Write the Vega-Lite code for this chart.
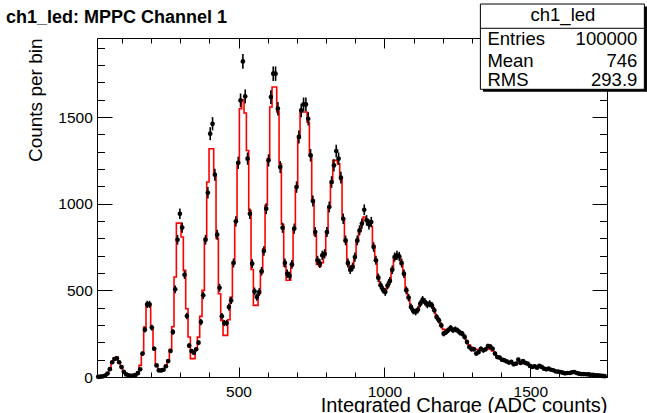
{
"$schema":"https://vega.github.io/schema/vega-lite/v6.json",
"width":510,"height":339,
"autosize":{"type":"none"},
"padding":{"left":97,"top":38,"right":40,"bottom":36},
"background":"white",
"title":{"text":"ch1_led: MPPC Channel 1","anchor":"start","frame":"group","dx":-91,"offset":-37,"baseline":"alphabetic","fontSize":18,"fontWeight":"bold","font":"Liberation Sans","color":"black"},
"config":{"font":"Liberation Sans","view":{"stroke":"black","strokeWidth":1},"axis":{"zindex":1}},
"datasets":{
"hist":[
{"x":19,"n":1,"e":1,"f":1},{"x":27,"n":2,"e":1.4,"f":2},{"x":35,"n":4,"e":2,"f":4},{"x":43,"n":8,"e":2.8,"f":8},{"x":51,"n":20,"e":4.5,"f":20},{"x":59,"n":45,"e":6.7,"f":45},{"x":67,"n":85,"e":9.2,"f":88},{"x":75,"n":104,"e":10.2,"f":110},{"x":83,"n":108,"e":10.4,"f":115},{"x":91,"n":85,"e":9.2,"f":85},
{"x":99,"n":57,"e":7.5,"f":57},{"x":107,"n":30,"e":5.5,"f":30},{"x":115,"n":15,"e":3.9,"f":15},{"x":123,"n":9,"e":3,"f":9},{"x":131,"n":7,"e":2.6,"f":7},{"x":139,"n":8,"e":2.8,"f":8},{"x":147,"n":11,"e":3.3,"f":12},{"x":155,"n":22,"e":4.7,"f":25},{"x":163,"n":44,"e":6.6,"f":67},{"x":171,"n":135,"e":11.6,"f":135},
{"x":179,"n":273,"e":16.5,"f":288},{"x":187,"n":419,"e":20.5,"f":423},{"x":195,"n":419,"e":20.5,"f":423},{"x":203,"n":285,"e":16.9,"f":290},{"x":211,"n":163,"e":12.8,"f":165},{"x":219,"n":67,"e":8.2,"f":70},{"x":227,"n":38,"e":6.2,"f":38},{"x":235,"n":38,"e":6.2,"f":38},{"x":243,"n":42,"e":6.5,"f":42},{"x":251,"n":62,"e":7.9,"f":62},
{"x":259,"n":92,"e":9.6,"f":95},{"x":267,"n":150,"e":12.2,"f":160},{"x":275,"n":260,"e":16.1,"f":290},{"x":283,"n":506,"e":22.5,"f":577},{"x":291,"n":792,"e":28.1,"f":888},{"x":299,"n":942,"e":30.7,"f":888},{"x":307,"n":862,"e":29.4,"f":808},{"x":315,"n":590,"e":24.3,"f":615},{"x":323,"n":352,"e":18.8,"f":394},{"x":331,"n":181,"e":13.5,"f":231},
{"x":339,"n":150,"e":12.2,"f":106},{"x":347,"n":140,"e":11.8,"f":106},{"x":355,"n":160,"e":12.6,"f":163},{"x":363,"n":198,"e":14.1,"f":230},{"x":371,"n":317,"e":17.8,"f":350},{"x":379,"n":471,"e":21.7,"f":500},{"x":387,"n":792,"e":28.1,"f":800},{"x":395,"n":1063,"e":32.6,"f":1125},{"x":403,"n":1404,"e":37.5,"f":1317},{"x":411,"n":1461,"e":38.2,"f":1317},
{"x":419,"n":1167,"e":34.2,"f":1173},{"x":427,"n":821,"e":28.7,"f":800},{"x":435,"n":515,"e":22.7,"f":480},{"x":443,"n":350,"e":18.7,"f":327},{"x":451,"n":311,"e":17.6,"f":240},{"x":459,"n":311,"e":17.6,"f":240},{"x":467,"n":404,"e":20.1,"f":330},{"x":475,"n":442,"e":21,"f":460},{"x":483,"n":658,"e":25.7,"f":660},{"x":491,"n":898,"e":30,"f":900},
{"x":499,"n":1236,"e":35.2,"f":1230},{"x":507,"n":1596,"e":40,"f":1548},{"x":515,"n":1821,"e":42.7,"f":1600},{"x":523,"n":1619,"e":40.2,"f":1523},{"x":531,"n":1260,"e":35.5,"f":1307},{"x":539,"n":942,"e":30.7,"f":960},{"x":547,"n":654,"e":25.6,"f":620},{"x":555,"n":494,"e":22.2,"f":413},{"x":563,"n":461,"e":21.5,"f":413},{"x":571,"n":490,"e":22.1,"f":480},
{"x":579,"n":610,"e":24.7,"f":600},{"x":587,"n":727,"e":27,"f":740},{"x":595,"n":971,"e":31.2,"f":990},{"x":603,"n":1250,"e":35.4,"f":1260},{"x":611,"n":1615,"e":40.2,"f":1558},{"x":619,"n":1750,"e":41.8,"f":1673},{"x":627,"n":1750,"e":41.8,"f":1673},{"x":635,"n":1548,"e":39.3,"f":1530},{"x":643,"n":1211,"e":34.8,"f":1230},{"x":651,"n":861,"e":29.3,"f":880},
{"x":659,"n":658,"e":25.7,"f":640},{"x":667,"n":596,"e":24.4,"f":558},{"x":675,"n":583,"e":24.1,"f":558},{"x":683,"n":650,"e":25.5,"f":640},{"x":691,"n":856,"e":29.3,"f":860},{"x":699,"n":1096,"e":33.1,"f":1100},{"x":707,"n":1385,"e":37.2,"f":1380},{"x":715,"n":1538,"e":39.2,"f":1529},{"x":723,"n":1573,"e":39.7,"f":1529},{"x":731,"n":1573,"e":39.7,"f":1529},
{"x":739,"n":1490,"e":38.6,"f":1470},{"x":747,"n":1279,"e":35.8,"f":1280},{"x":755,"n":1015,"e":31.9,"f":1020},{"x":763,"n":836,"e":28.9,"f":820},{"x":771,"n":673,"e":25.9,"f":650},{"x":779,"n":654,"e":25.6,"f":640},{"x":787,"n":702,"e":26.5,"f":660},{"x":795,"n":711,"e":26.7,"f":700},{"x":803,"n":836,"e":28.9,"f":830},{"x":811,"n":981,"e":31.3,"f":980},
{"x":819,"n":1125,"e":33.5,"f":1120},{"x":827,"n":1221,"e":34.9,"f":1250},{"x":835,"n":1304,"e":36.1,"f":1250},{"x":843,"n":1260,"e":35.5,"f":1230},{"x":851,"n":1150,"e":33.9,"f":1140},{"x":859,"n":913,"e":30.2,"f":910},{"x":867,"n":788,"e":28.1,"f":780},{"x":875,"n":658,"e":25.7,"f":650},{"x":883,"n":619,"e":24.9,"f":615},{"x":891,"n":635,"e":25.2,"f":630},
{"x":899,"n":692,"e":26.3,"f":690},{"x":907,"n":788,"e":28.1,"f":780},{"x":915,"n":846,"e":29.1,"f":840},{"x":923,"n":885,"e":29.7,"f":890},{"x":931,"n":965,"e":31.1,"f":923},{"x":939,"n":904,"e":30.1,"f":910},{"x":947,"n":881,"e":29.7,"f":880},{"x":955,"n":894,"e":29.9,"f":870},{"x":963,"n":750,"e":27.4,"f":760},{"x":971,"n":673,"e":25.9,"f":670},
{"x":979,"n":573,"e":23.9,"f":580},{"x":987,"n":529,"e":23,"f":530},{"x":995,"n":504,"e":22.4,"f":500},{"x":1003,"n":490,"e":22.1,"f":495},{"x":1011,"n":529,"e":23,"f":520},{"x":1019,"n":554,"e":23.5,"f":560},{"x":1027,"n":619,"e":24.9,"f":620},{"x":1035,"n":692,"e":26.3,"f":680},{"x":1043,"n":702,"e":26.5,"f":700},{"x":1051,"n":696,"e":26.4,"f":690},
{"x":1059,"n":658,"e":25.7,"f":650},{"x":1067,"n":596,"e":24.4,"f":590},{"x":1075,"n":500,"e":22.4,"f":510},{"x":1083,"n":458,"e":21.4,"f":455},{"x":1091,"n":404,"e":20.1,"f":410},{"x":1099,"n":381,"e":19.5,"f":385},{"x":1107,"n":375,"e":19.4,"f":378},{"x":1115,"n":388,"e":19.7,"f":390},{"x":1123,"n":423,"e":20.6,"f":420},{"x":1131,"n":446,"e":21.1,"f":440},
{"x":1139,"n":433,"e":20.8,"f":435},{"x":1147,"n":417,"e":20.4,"f":425},{"x":1155,"n":423,"e":20.6,"f":420},{"x":1163,"n":413,"e":20.3,"f":410},{"x":1171,"n":385,"e":19.6,"f":385},{"x":1179,"n":346,"e":18.6,"f":350},{"x":1187,"n":327,"e":18.1,"f":320},{"x":1195,"n":298,"e":17.3,"f":295},{"x":1203,"n":250,"e":15.8,"f":275},{"x":1211,"n":258,"e":16.1,"f":270},
{"x":1219,"n":270,"e":16.4,"f":270},{"x":1227,"n":283,"e":16.8,"f":272},{"x":1235,"n":270,"e":16.4,"f":272},{"x":1243,"n":275,"e":16.6,"f":270},{"x":1251,"n":268,"e":16.4,"f":265},{"x":1259,"n":256,"e":16,"f":258},{"x":1267,"n":250,"e":15.8,"f":245},{"x":1275,"n":231,"e":15.2,"f":228},{"x":1283,"n":202,"e":14.2,"f":205},{"x":1291,"n":173,"e":13.2,"f":185},
{"x":1299,"n":160,"e":12.6,"f":172},{"x":1307,"n":160,"e":12.6,"f":165},{"x":1315,"n":135,"e":11.6,"f":160},{"x":1323,"n":144,"e":12,"f":158},{"x":1331,"n":163,"e":12.8,"f":158},{"x":1339,"n":154,"e":12.4,"f":158},{"x":1347,"n":160,"e":12.6,"f":160},{"x":1355,"n":179,"e":13.4,"f":162},{"x":1363,"n":175,"e":13.2,"f":160},{"x":1371,"n":163,"e":12.8,"f":150},
{"x":1379,"n":135,"e":11.6,"f":135},{"x":1387,"n":115,"e":10.7,"f":120},{"x":1395,"n":112,"e":10.6,"f":110},{"x":1403,"n":100,"e":10,"f":102},{"x":1411,"n":96,"e":9.8,"f":96},{"x":1419,"n":90,"e":9.5,"f":91},{"x":1427,"n":83,"e":9.1,"f":87},{"x":1435,"n":87,"e":9.3,"f":84},{"x":1443,"n":73,"e":8.5,"f":81},{"x":1451,"n":77,"e":8.8,"f":80},
{"x":1459,"n":100,"e":10,"f":80},{"x":1467,"n":81,"e":9,"f":80},{"x":1475,"n":92,"e":9.6,"f":80},{"x":1483,"n":81,"e":9,"f":77},{"x":1491,"n":77,"e":8.8,"f":72},{"x":1499,"n":64,"e":8,"f":66},{"x":1507,"n":58,"e":7.6,"f":62},{"x":1515,"n":62,"e":7.9,"f":59},{"x":1523,"n":54,"e":7.3,"f":58},{"x":1531,"n":64,"e":8,"f":57},
{"x":1539,"n":58,"e":7.6,"f":54},{"x":1547,"n":48,"e":6.9,"f":50},{"x":1555,"n":44,"e":6.6,"f":46},{"x":1563,"n":48,"e":6.9,"f":44},{"x":1571,"n":42,"e":6.5,"f":41},{"x":1579,"n":39,"e":6.2,"f":38},{"x":1587,"n":33,"e":5.7,"f":34},{"x":1595,"n":31,"e":5.6,"f":31},{"x":1603,"n":29,"e":5.4,"f":28},{"x":1611,"n":25,"e":5,"f":26},
{"x":1619,"n":21,"e":4.6,"f":24},{"x":1627,"n":23,"e":4.8,"f":23},{"x":1635,"n":23,"e":4.8,"f":23},{"x":1643,"n":27,"e":5.2,"f":24},{"x":1651,"n":29,"e":5.4,"f":24},{"x":1659,"n":23,"e":4.8,"f":22},{"x":1667,"n":19,"e":4.4,"f":20},{"x":1675,"n":17,"e":4.1,"f":18},{"x":1683,"n":17,"e":4.1,"f":16},{"x":1691,"n":16,"e":4,"f":15},
{"x":1699,"n":15,"e":3.9,"f":14},{"x":1707,"n":13,"e":3.6,"f":13},{"x":1715,"n":12,"e":3.5,"f":11},{"x":1723,"n":10,"e":3.2,"f":10},{"x":1731,"n":9,"e":3,"f":9},{"x":1739,"n":8,"e":2.8,"f":8},{"x":1747,"n":6,"e":2.4,"f":6},{"x":1755,"n":5,"e":2.2,"f":5}
],
"stats":[{"name":"Entries","value":"100000"},{"name":"Mean","value":"746"},{"name":"RMS","value":"293.9"}],
"box":[{"title":"ch1_led"}]
},
"data":{"name":"hist"},
"resolve":{"axis":{"x":"independent","y":"independent"}},
"layer":[
{"mark":{"type":"line","interpolate":"step","color":"#ff0000","strokeWidth":1.6},
 "encoding":{
  "x":{"field":"x","type":"quantitative","scale":{"domain":[15,1763],"nice":false,"zero":false},
   "axis":{"orient":"bottom","values":[500,1000,1500],"format":"d","ticks":false,"domain":false,"grid":false,"labelFontSize":15.5,"labelColor":"black","labelPadding":7,"labelFlush":false,"labelOverlap":false,"labelBound":false,"title":"Integrated Charge (ADC counts)","titleAnchor":"end","titleFontSize":20,"titleFontWeight":"normal","titleColor":"black","titlePadding":-4,"zindex":0}},
  "y":{"field":"f","type":"quantitative","scale":{"domain":[0,1956],"nice":false,"zero":true},
   "axis":{"orient":"left","values":[0,500,1000,1500],"format":"d","ticks":false,"domain":false,"grid":false,"labelFontSize":15.5,"labelColor":"black","labelPadding":4.7,"labelFlush":false,"labelOverlap":false,"labelBound":false,"title":"Counts per bin","titleAnchor":"end","titleFontSize":19,"titleFontWeight":"normal","titleColor":"black","titlePadding":12,"zindex":0}}
 }},
{"mark":{"type":"errorbar","color":"black","thickness":1.6},
 "encoding":{
  "x":{"field":"x","type":"quantitative","scale":{"domain":[15,1763],"nice":false,"zero":false},"axis":null},
  "y":{"field":"n","type":"quantitative","scale":{"domain":[0,1956],"nice":false},"axis":null},
  "yError":{"field":"e"}
 }},
{"mark":{"type":"circle","size":22,"color":"black","opacity":1},
 "encoding":{
  "x":{"field":"x","type":"quantitative","scale":{"domain":[15,1763],"nice":false,"zero":false},
   "axis":{"orient":"top","offset":-339,"values":[100,200,300,400,500,600,700,800,900,1000,1100,1200,1300,1400,1500,1600,1700],"labels":false,"tickSize":5,"tickColor":"black","tickWidth":1,"domain":false,"grid":false,"title":null,"zindex":1}},
  "y":{"field":"n","type":"quantitative","scale":{"domain":[0,1956],"nice":false},
   "axis":{"orient":"right","offset":-510,"values":[0,100,200,300,400,500,600,700,800,900,1000,1100,1200,1300,1400,1500,1600,1700,1800,1900],"labels":false,"tickSize":7.5,"tickColor":"black","tickWidth":1,"domain":false,"grid":false,"title":null,"zindex":1}}
 }},
{"mark":{"type":"circle","size":22,"color":"black","opacity":0},
 "encoding":{
  "x":{"field":"x","type":"quantitative","scale":{"domain":[15,1763],"nice":false,"zero":false},
   "axis":{"orient":"top","offset":-339,"values":[500,1000,1500],"labels":false,"tickSize":10,"tickColor":"black","tickWidth":1,"domain":false,"grid":false,"title":null,"zindex":1}},
  "y":{"field":"n","type":"quantitative","scale":{"domain":[0,1956],"nice":false},
   "axis":{"orient":"right","offset":-510,"values":[0,500,1000,1500],"labels":false,"tickSize":15,"tickColor":"black","tickWidth":1,"domain":false,"grid":false,"title":null,"zindex":1}}
 }},
{"mark":{"type":"circle","size":22,"color":"black","opacity":0},
 "encoding":{
  "x":{"field":"x","type":"quantitative","scale":{"domain":[15,1763],"nice":false,"zero":false},
   "axis":{"orient":"bottom","offset":-339,"values":[100,200,300,400,500,600,700,800,900,1000,1100,1200,1300],"labels":false,"tickSize":5,"tickColor":"black","tickWidth":1,"domain":false,"grid":false,"title":null,"zindex":1}},
  "y":{"field":"n","type":"quantitative","scale":{"domain":[0,1956],"nice":false},
   "axis":{"orient":"left","offset":-510,"values":[0,100,200,300,400,500,600,700,800,900,1000,1100,1200,1300,1400,1500,1600],"labels":false,"tickSize":7.5,"tickColor":"black","tickWidth":1,"domain":false,"grid":false,"title":null,"zindex":1}}
 }},
{"mark":{"type":"circle","size":22,"color":"black","opacity":0},
 "encoding":{
  "x":{"field":"x","type":"quantitative","scale":{"domain":[15,1763],"nice":false,"zero":false},
   "axis":{"orient":"bottom","offset":-339,"values":[500,1000],"labels":false,"tickSize":10,"tickColor":"black","tickWidth":1,"domain":false,"grid":false,"title":null,"zindex":1}},
  "y":{"field":"n","type":"quantitative","scale":{"domain":[0,1956],"nice":false},
   "axis":{"orient":"left","offset":-510,"values":[0,500,1000,1500],"labels":false,"tickSize":15,"tickColor":"black","tickWidth":1,"domain":false,"grid":false,"title":null,"zindex":1}}
 }},
{"data":{"name":"box"},
 "mark":{"type":"rect","color":"black","clip":false},
 "encoding":{
  "x":{"datum":1338,"type":"quantitative","scale":{"domain":[15,1763],"nice":false,"zero":false},"axis":null},
  "x2":{"datum":1900},
  "y":{"datum":2138,"type":"quantitative","scale":{"domain":[0,1956],"nice":false},"axis":null},
  "y2":{"datum":1646}
 }},
{"data":{"name":"box"},
 "mark":{"type":"rect","fill":"white","stroke":"black","strokeWidth":1,"clip":false},
 "encoding":{
  "x":{"datum":1329,"type":"quantitative","scale":{"domain":[15,1763],"nice":false,"zero":false},"axis":null},
  "x2":{"datum":1891},
  "y":{"datum":2152,"type":"quantitative","scale":{"domain":[0,1956],"nice":false},"axis":null},
  "y2":{"datum":1660}
 }},
{"data":{"name":"box"},
 "mark":{"type":"rule","color":"black","strokeWidth":1,"clip":false},
 "encoding":{
  "x":{"datum":1329,"type":"quantitative","scale":{"domain":[15,1763],"nice":false,"zero":false},"axis":null},
  "x2":{"datum":1891},
  "y":{"datum":2012,"type":"quantitative","scale":{"domain":[0,1956],"nice":false},"axis":null}
 }},
{"data":{"name":"box"},
 "mark":{"type":"text","align":"center","baseline":"middle","fontSize":18.5,"color":"black","clip":false},
 "encoding":{
  "x":{"datum":1612,"type":"quantitative","scale":{"domain":[15,1763],"nice":false,"zero":false},"axis":null},
  "y":{"datum":2089,"type":"quantitative","scale":{"domain":[0,1956],"nice":false},"axis":null},
  "text":{"field":"title"}
 }},
{"data":{"name":"stats"},"transform":[{"filter":"datum.name === 'Entries'"}],
 "mark":{"type":"text","align":"left","baseline":"middle","fontSize":18.5,"color":"black","clip":false},
 "encoding":{
  "x":{"datum":1353,"type":"quantitative","scale":{"domain":[15,1763],"nice":false,"zero":false},"axis":null},
  "y":{"datum":1948,"type":"quantitative","scale":{"domain":[0,1956],"nice":false},"axis":null},
  "text":{"field":"name"}
 }},
{"data":{"name":"stats"},"transform":[{"filter":"datum.name === 'Mean'"}],
 "mark":{"type":"text","align":"left","baseline":"middle","fontSize":18.5,"color":"black","clip":false},
 "encoding":{
  "x":{"datum":1353,"type":"quantitative","scale":{"domain":[15,1763],"nice":false,"zero":false},"axis":null},
  "y":{"datum":1825,"type":"quantitative","scale":{"domain":[0,1956],"nice":false},"axis":null},
  "text":{"field":"name"}
 }},
{"data":{"name":"stats"},"transform":[{"filter":"datum.name === 'RMS'"}],
 "mark":{"type":"text","align":"left","baseline":"middle","fontSize":18.5,"color":"black","clip":false},
 "encoding":{
  "x":{"datum":1353,"type":"quantitative","scale":{"domain":[15,1763],"nice":false,"zero":false},"axis":null},
  "y":{"datum":1714,"type":"quantitative","scale":{"domain":[0,1956],"nice":false},"axis":null},
  "text":{"field":"name"}
 }},
{"data":{"name":"stats"},"transform":[{"filter":"datum.name === 'Entries'"}],
 "mark":{"type":"text","align":"right","baseline":"middle","fontSize":18.5,"color":"black","clip":false},
 "encoding":{
  "x":{"datum":1867,"type":"quantitative","scale":{"domain":[15,1763],"nice":false,"zero":false},"axis":null},
  "y":{"datum":1948,"type":"quantitative","scale":{"domain":[0,1956],"nice":false},"axis":null},
  "text":{"field":"value"}
 }},
{"data":{"name":"stats"},"transform":[{"filter":"datum.name === 'Mean'"}],
 "mark":{"type":"text","align":"right","baseline":"middle","fontSize":18.5,"color":"black","clip":false},
 "encoding":{
  "x":{"datum":1867,"type":"quantitative","scale":{"domain":[15,1763],"nice":false,"zero":false},"axis":null},
  "y":{"datum":1825,"type":"quantitative","scale":{"domain":[0,1956],"nice":false},"axis":null},
  "text":{"field":"value"}
 }},
{"data":{"name":"stats"},"transform":[{"filter":"datum.name === 'RMS'"}],
 "mark":{"type":"text","align":"right","baseline":"middle","fontSize":18.5,"color":"black","clip":false},
 "encoding":{
  "x":{"datum":1867,"type":"quantitative","scale":{"domain":[15,1763],"nice":false,"zero":false},"axis":null},
  "y":{"datum":1714,"type":"quantitative","scale":{"domain":[0,1956],"nice":false},"axis":null},
  "text":{"field":"value"}
 }}
]
}
